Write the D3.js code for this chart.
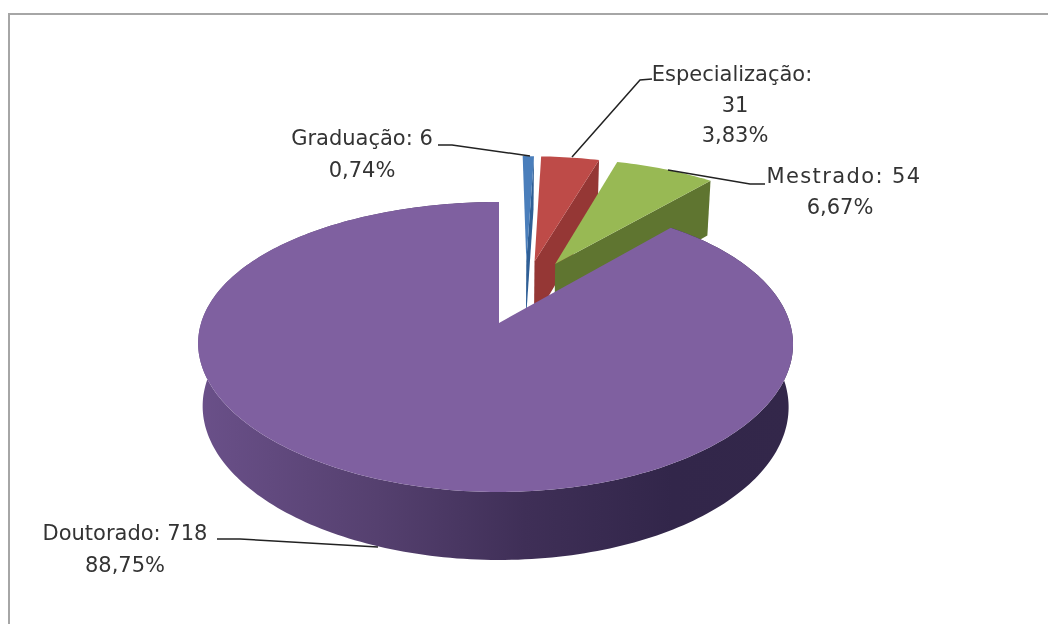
<!DOCTYPE html>
<html><head><meta charset="utf-8">
<script src="https://cdn.jsdelivr.net/npm/d3@7"></script>
<style>html,body{margin:0;background:#fff;overflow:hidden}svg{display:block;filter:blur(0.4px)}text{font-family:"DejaVu Sans";font-size:21px;fill:#333;text-anchor:middle}</style>
</head><body><div id="c"></div>
<script>
const categories=["Graduação","Especialização","Mestrado","Doutorado"];
const values=[6,31,54,718];
const percents=["0,74%","3,83%","6,67%","88,75%"];
const topColors=["#4a7ebb","#be4b48","#98b954","#7f60a0"];
const faceColors=["#2f5f96","#953735","#5f7530","#3f2f55"];

const W=1048,H=624;
const svg=d3.select("#c").append("svg").attr("width",W).attr("height",H);
svg.append("rect").attr("x",9).attr("y",14).attr("width",1100).attr("height",700).attr("fill","#fff").attr("stroke","#a6a6a6").attr("stroke-width",2);

// projection of the tilted disc; (ox,oy) is the explosion offset of a slice
const ax=499,ay=323,ew=294.4,eh=141,k=0.1655,shift=3.5,shear=7;
const scaleX=d3.scaleLinear().domain([0,1]).range([0,ew]);
const scaleY=d3.scaleLinear().domain([0,1]).range([0,eh]);
function proj(u,v,ox=0,oy=0){
  const U=u+ox,V=v+oy,w=1+k*V;
  return [ax-shift*(u*u)+shear*u*v+scaleX(U)/w,ay-scaleY(V)/w];
}
function low(u,v,ox=0,oy=0){
  const p=proj(u,v,ox,oy),d=62-6*(v+oy);
  return [ax+(p[0]-ax)*0.985,p[1]+d];
}

const explode=[[0.10,0.472],[0.13,0.47],[0.205,0.45],[0,0]];
const arcs=d3.pie().sort(null).startAngle(0).endAngle(2*Math.PI)(values);
const line=d3.line().curve(d3.curveLinearClosed);
function ring(a0,a1,[ox,oy],fn){
  const n=Math.max(2,Math.ceil((a1-a0)/0.02));
  return d3.range(n+1).map(i=>{const t=a0+(a1-a0)*i/n;return fn(Math.sin(t),Math.cos(t),ox,oy);});
}
const defs=svg.append("defs");
const g=defs.append("linearGradient").attr("id","wall").attr("gradientUnits","userSpaceOnUse").attr("x1",200).attr("x2",790).attr("y1",0).attr("y2",0);
[[0,"#6a5089"],[0.3,"#55406f"],[0.55,"#3f2f57"],[0.8,"#32264a"],[1,"#33274a"]].forEach(([o,c])=>g.append("stop").attr("offset",o).attr("stop-color",c));

[0,1,2,3].forEach(i=>{
  const a=arcs[i],e=explode[i];
  const top=ring(a.startAngle,a.endAngle,e,proj);
  const bot=ring(a.startAngle,a.endAngle,e,low);
  const apexT=proj(0,0,e[0],e[1]),apexB=low(0,0,e[0],e[1]);
  if(i<3){
    svg.append("path").attr("d",line([apexT,top[top.length-1],bot[bot.length-1],apexB])).attr("fill",faceColors[i]);
    svg.append("path").attr("d",line([apexT,...top])).attr("fill",topColors[i]);
  }else{
    svg.append("path").attr("d",line([...top,...bot.slice().reverse()])).attr("fill","url(#wall)");
    svg.append("path").attr("d",line([apexT,...top])).attr("fill",topColors[i]);
  }
});

// leader lines
const leaders=[[[438,145],[452,145],[530,156]],[[652,79],[640,80],[572,157]],[[668,170],[750,184],[765,184]],[[217,539],[240,539],[378,547]]];
const ln=d3.line();
leaders.forEach(l=>svg.append("path").attr("d",ln(l)).attr("fill","none").attr("stroke","#222").attr("stroke-width",1.5));

// labels: x of first row, baseline, line step, x of percent row, letter spacing of first row
const labelAt=[[362,145,32,362,0],[732,81,30.5,735,0],[844,183,31,840,1.4],[125,540,32,125,0]];
categories.forEach((c,i)=>{
  const [x,y,dy,px,ls]=labelAt[i];
  const rows=i===1?[c+":",String(values[i]),percents[i]]:[c+": "+values[i],percents[i]];
  rows.forEach((r,j)=>svg.append("text").attr("x",j===0?x:px).attr("y",y+dy*j).style("letter-spacing",j===0&&ls?ls+"px":null).text(r));
});
</script></body></html>
